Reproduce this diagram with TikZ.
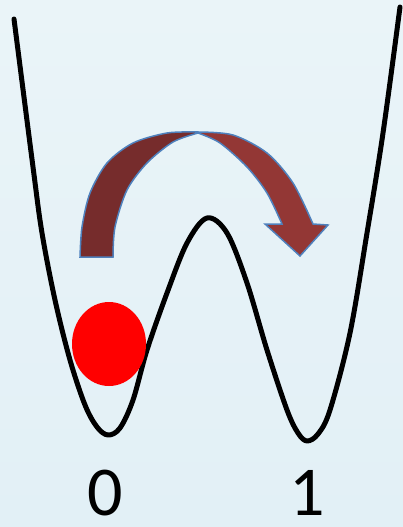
\documentclass[tikz,border=0pt]{standalone}
\usepackage{fontspec}
\newfontfamily\calib{Carlito}
\usetikzlibrary{shapes.geometric}
\definecolor{bgtop}{RGB}{234,244,248}
\definecolor{bgbot}{RGB}{226,240,246}
\definecolor{arrL}{RGB}{118,44,44}
\definecolor{arrR}{RGB}{147,55,53}
\definecolor{arrB}{RGB}{79,129,189}
\tikzset{
  well/.style={line width=5pt, line join=round, line cap=round},
  arrowpart/.style={draw=arrB, line width=1.5pt, line join=miter},
  digit/.style={font=\calib\fontsize{70}{70}\selectfont, inner sep=0pt, text=black}
}
\begin{document}
\begin{tikzpicture}[x=1pt,y=-1pt]
\useasboundingbox (0,0) rectangle (403,527);
\shade[top color=bgtop, bottom color=bgbot] (0,0) rectangle (403,527);
% double well
\draw[well] plot[smooth, tension=0.55] coordinates {(14,19) (33,167) (42,233) (55,300) (70,360) (85,405) (97,427) (108,435) (120,428) (133,400) (147,350) (167,293) (187,243) (207,218) (227,233) (247,283) (267,350) (287,410) (298,433) (307,441) (318,434) (330,410) (350,333) (367,233) (383,133) (400,7)};
% curved arrow
\filldraw[arrowpart, fill=arrR] plot[smooth] coordinates {(198,132) (233,135) (267,153) (293,183) (313,224)} -- (328,225) -- (300,256) -- (265,224) -- (282,224) -- plot[smooth] coordinates {(282,224) (267,193) (247,167) (220,143) (198,133)} -- cycle;
\filldraw[arrowpart, fill=arrL] plot[smooth] coordinates {(80,257) (82,227) (90,193) (107,163) (133,143) (167,133) (198,132)} -- plot[smooth] coordinates {(198,133) (173,142) (147,163) (127,190) (115,227) (113,257)} -- cycle;
% ball
\node[ellipse, fill=red, minimum width=74pt, minimum height=84pt, inner sep=0pt] (ball) at (109,344) {};
% labels
\node[digit] (zero) at (105,493) {0};
\node[digit] (one) at (307,493) {1};
\end{tikzpicture}
\end{document}
